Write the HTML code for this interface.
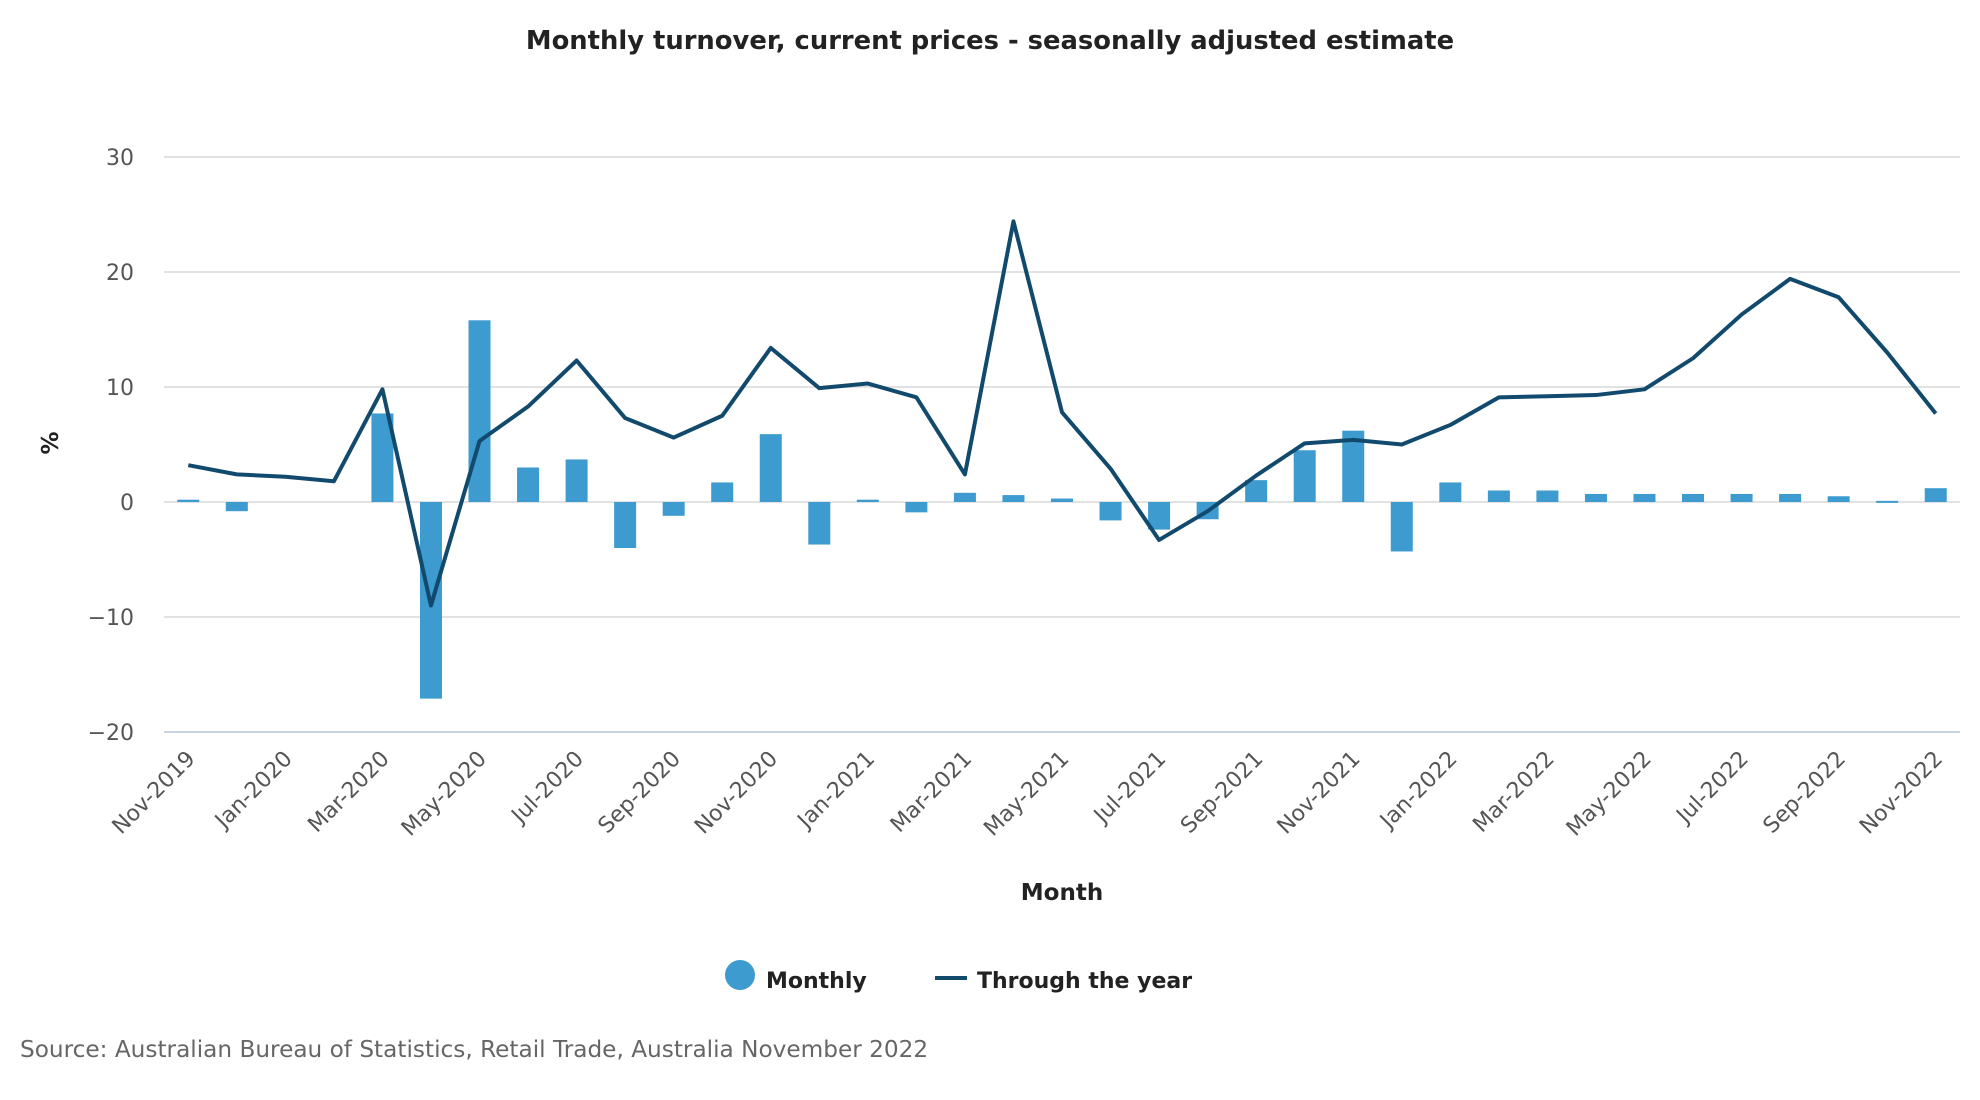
<!DOCTYPE html>
<html><head><meta charset="utf-8"><style>
body{margin:0;background:#fff;font-family:"DejaVu Sans","Liberation Sans",sans-serif;}
svg{display:block}
</style></head><body>
<svg id="chart" width="1980" height="1100" font-family="DejaVu Sans, Liberation Sans, sans-serif">
<text x="990" y="49" text-anchor="middle" font-size="25.8" font-weight="bold" fill="#222">Monthly turnover, current prices - seasonally adjusted estimate</text>
<g id="grid"></g><g id="bars"></g><g id="line"></g><g id="xlabels"></g>
<text transform="translate(58,443) rotate(-90)" text-anchor="middle" font-size="23" font-weight="bold" fill="#222">%</text>
<text x="1062" y="900" text-anchor="middle" font-size="23" font-weight="bold" fill="#222">Month</text>
<g><circle cx="740" cy="975" r="15" fill="#3d9bd0"/><text x="766" y="988" font-size="22" font-weight="bold" fill="#222">Monthly</text></g>
<g><line x1="935" y1="978" x2="967" y2="978" stroke="#124a6e" stroke-width="4"/><text x="977" y="988" font-size="22" font-weight="bold" fill="#222">Through the year</text></g>
<text x="20" y="1057" font-size="23.2" fill="#666">Source: Australian Bureau of Statistics, Retail Trade, Australia November 2022</text>
</svg>
<script>
const categories=["Nov-2019","Dec-2019","Jan-2020","Feb-2020","Mar-2020","Apr-2020","May-2020","Jun-2020","Jul-2020","Aug-2020","Sep-2020","Oct-2020","Nov-2020","Dec-2020","Jan-2021","Feb-2021","Mar-2021","Apr-2021","May-2021","Jun-2021","Jul-2021","Aug-2021","Sep-2021","Oct-2021","Nov-2021","Dec-2021","Jan-2022","Feb-2022","Mar-2022","Apr-2022","May-2022","Jun-2022","Jul-2022","Aug-2022","Sep-2022","Oct-2022","Nov-2022"];
const monthly=[0.2,-0.8,0,0,7.7,-17.1,15.8,3.0,3.7,-4.0,-1.2,1.7,5.9,-3.7,0.2,-0.9,0.8,0.6,0.3,-1.6,-2.4,-1.5,1.9,4.5,6.2,-4.3,1.7,1.0,1.0,0.7,0.7,0.7,0.7,0.7,0.5,0.1,1.2];
const throughYear=[3.2,2.4,2.2,1.8,9.8,-9.0,5.3,8.3,12.3,7.3,5.6,7.5,13.4,9.9,10.3,9.1,2.4,24.4,7.8,2.9,-3.3,-0.8,2.3,5.1,5.4,5.0,6.7,9.1,9.2,9.3,9.8,12.5,16.3,19.4,17.8,13.0,7.7];
const yTicks=[-20,-10,0,10,20,30];
const NS="http://www.w3.org/2000/svg";
const L=164,R=1960,T=157,B=732,ymin=-20,ymax=30;
const band=(R-L)/categories.length;
const xc=i=>L+band*(i+0.5);
const y=v=>B-(v-ymin)/(ymax-ymin)*(B-T);
function mk(t,a,p){const e=document.createElementNS(NS,t);for(const k in a)e.setAttribute(k,a[k]);p.appendChild(e);return e;}
const grid=document.getElementById('grid');
yTicks.forEach(v=>{
 const g=mk('line',{x1:L,x2:R,y1:y(v),y2:y(v),stroke:v===ymin?'#c8d4e6':'#e2e2e2','stroke-width':2},grid);
 
 
 const t=mk('text',{x:134,y:y(v)+8,'text-anchor':'end','font-size':22,fill:'#555'},grid);
 t.textContent=String(v).replace('-','\u2212');
 
 
});
const bars=document.getElementById('bars');
const bw=22;
monthly.forEach((v,i)=>{
 const y0=y(0),y1=y(v);
 const r=mk('rect',{x:xc(i)-bw/2,y:Math.min(y0,y1),width:bw,height:Math.max(Math.abs(y1-y0),v===0?0:2),fill:'#3d9bd0'},bars);
 
 
});
const pts=throughYear.map((v,i)=>xc(i)+','+y(v)).join(' ');
const pl=mk('polyline',{points:pts,fill:'none',stroke:'#124a6e','stroke-width':4,'stroke-linejoin':'round'},document.getElementById('line'));


const xl=document.getElementById('xlabels');
categories.forEach((c,i)=>{
 if(i%2)return;
 const t=mk('text',{transform:`translate(${xc(i)+8},${B+28}) rotate(-45)`,'text-anchor':'end','font-size':22,fill:'#555'},xl);
 t.textContent=c;
 
 
});
</script>
</body></html>
